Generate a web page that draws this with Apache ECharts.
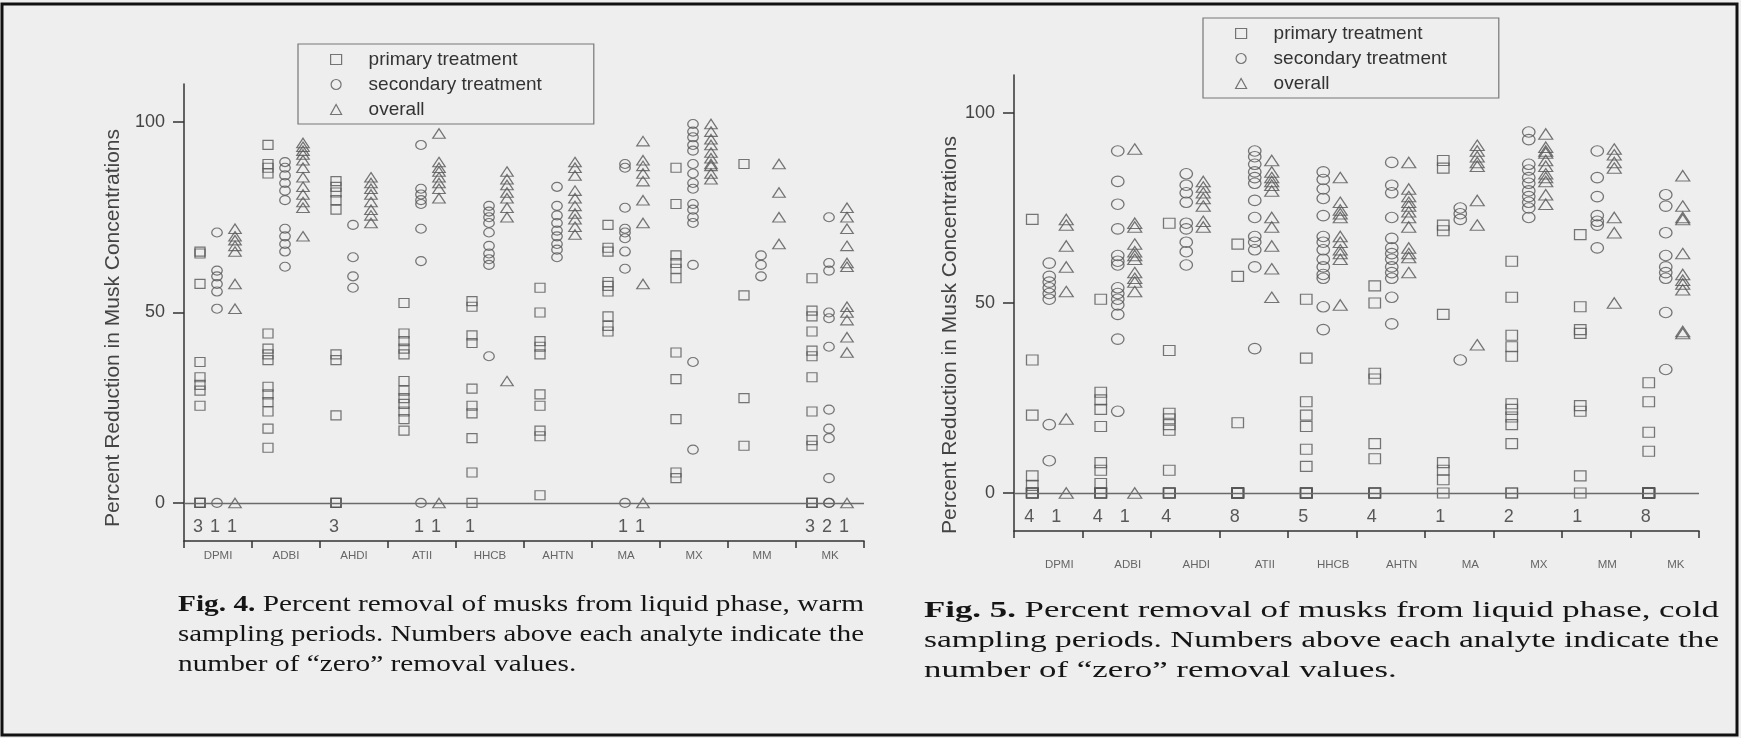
<!DOCTYPE html>
<html>
<head>
<meta charset="utf-8">
<script src="https://cdn.jsdelivr.net/npm/echarts@6.0.0/dist/echarts.min.js"></script>
<style>
  html, body { margin: 0; padding: 0; background: #eeeeee; }
  #main { width: 1741px; height: 738px; }
</style>
</head>
<body>
<div id="main"></div>
<script>
// Analytes on the x axis
const categories = ['DPMI', 'ADBI', 'AHDI', 'ATII', 'HHCB', 'AHTN', 'MA', 'MX', 'MM', 'MK'];
const seriesNames = ['primary treatment', 'secondary treatment', 'overall'];
const yTicks = [0, 50, 100];

// Fig. 4 – warm sampling periods: non-zero percent reductions per analyte
const warmPrimary = [
  [66, 65.5, 57.5, 37, 33, 31, 29.5, 25.5],
  [94, 89, 88, 86.5, 44.5, 40.5, 39, 37.5, 30.5, 28.5, 26.5, 24, 19.5, 14.5],
  [84.5, 83, 81.5, 79.5, 77, 39, 37.5, 23],
  [52.5, 44.5, 42.5, 40.5, 39, 32, 29.5, 27.5, 26, 24, 22, 19],
  [53, 51.5, 44, 42, 30, 25.5, 23.5, 17, 8],
  [56.5, 50, 42.5, 41, 39, 28.5, 25.5, 19, 17.5, 2],
  [73, 67, 66, 58, 57, 55.5, 49, 46.5, 45],
  [88, 78.5, 65, 63, 61.5, 59, 39.5, 32.5, 22, 8, 6.5],
  [89, 54.5, 27.5, 15],
  [59, 50.5, 49, 45, 40, 38.5, 33, 24, 16.5, 15]
];
const warmSecondary = [
  [71, 61, 59.5, 57.5, 55.5, 51],
  [89.5, 88, 86, 84, 82, 79.5, 72, 70, 68, 66, 62],
  [73, 64.5, 59.5, 56.5],
  [94, 82.5, 81, 79.5, 78.5, 72, 63.5],
  [78, 76.5, 75, 73.5, 71, 67.5, 65.5, 64, 62.5, 38.5],
  [83, 78, 75.5, 73.5, 71.5, 70, 68, 66.5, 64.5],
  [89, 88, 77.5, 72, 71, 69.5, 66, 61.5],
  [99.5, 97.5, 96, 94, 92.5, 89, 86.5, 84, 82.5, 78.5, 77, 75, 73.5, 62.5, 37, 14],
  [65, 62.5, 59.5],
  [75, 63, 61, 50, 48.5, 41, 24.5, 19.5, 17, 6.5]
];
const warmOverall = [
  [72, 70, 69, 67.5, 66, 57.5, 51],
  [94.5, 93.5, 92.5, 91.5, 90, 88, 85.5, 83, 81, 79, 77.5, 70],
  [85.5, 84, 82.5, 81, 79, 77, 75.5, 73.5],
  [97, 89.5, 88, 87, 85.5, 84, 82.5, 80],
  [87, 85, 83.5, 81.5, 80, 77.5, 75, 32],
  [89.5, 88, 86, 82, 80, 78, 76, 74.5, 72.5, 70.5],
  [95, 90, 88.5, 86.5, 84.5, 79.5, 73.5, 57.5],
  [99.5, 97.5, 95.5, 94, 92, 90.5, 89, 88.5, 86.5, 85],
  [89, 81.5, 75, 68],
  [77.5, 75, 72, 67.5, 63, 62, 51.5, 50, 48, 43.5, 39.5]
];
// number of "zero" removal values per analyte
const warmPrimaryZeros   = [3, 0, 3, 0, 1, 0, 0, 0, 0, 3];
const warmSecondaryZeros = [1, 0, 0, 1, 0, 0, 1, 0, 0, 2];
const warmOverallZeros   = [1, 0, 0, 1, 0, 0, 1, 0, 0, 1];

// Fig. 5 – cold sampling periods
const coldPrimary = [
  [72, 35, 20.5, 4.5, 2],
  [51, 26.5, 24.5, 22, 17.5, 8, 6, 2.5],
  [71, 37.5, 21, 19.5, 18, 16.5, 6],
  [65.5, 57, 18.5],
  [51, 35.5, 24, 20.5, 17.5, 11.5, 7],
  [54.5, 50, 31.5, 30, 13, 9],
  [87.5, 85.5, 70.5, 69, 47, 8, 6, 3.5],
  [61, 51.5, 41.5, 38.5, 36, 23.5, 22, 20, 18, 13],
  [68, 49, 43, 42, 23, 21.5, 4.5],
  [29, 24, 16, 11]
];
const coldSecondary = [
  [60.5, 57, 55.5, 54, 52.5, 51, 18, 8.5],
  [90, 82, 76, 69.5, 62.5, 61, 60, 54, 52.5, 51, 49.5, 47, 40.5, 21.5],
  [84, 81, 79, 76.5, 71, 69.5, 66, 63.5, 60],
  [90, 88.5, 86.5, 84.5, 83, 81.5, 77, 72.5, 67.5, 66, 64, 59.5, 38],
  [84.5, 82.5, 80, 77.5, 73, 67.5, 66, 64, 61.5, 59.5, 57.5, 56.5, 49, 43],
  [87, 81, 79, 72.5, 67, 64.5, 63, 61.5, 59.5, 58, 56.5, 51.5, 44.5],
  [75, 73.5, 72, 35],
  [95, 93, 86.5, 85, 83, 81.5, 79.5, 78, 76.5, 75, 72.5],
  [90, 83, 78, 73, 71.5, 70.5, 64.5],
  [78.5, 75.5, 68.5, 62.5, 59.5, 58, 56.5, 47.5, 32.5]
];
const coldOverall = [
  [72, 70.5, 65, 59.5, 53, 19.5],
  [90.5, 71, 70, 65.5, 63.5, 62.5, 61.5, 58, 56.5, 55.5, 53],
  [82, 80.5, 79, 77.5, 75.5, 71.5, 70],
  [87.5, 84.5, 83, 82, 81, 79.5, 72.5, 70, 65, 59, 51.5],
  [83, 76.5, 74.5, 73.5, 72.5, 67.5, 66, 64, 63, 61.5, 49.5],
  [87, 80, 78, 76.5, 75.5, 74, 72.5, 70, 64.5, 63, 62, 58],
  [91.5, 90, 88.5, 87, 86, 77, 70.5, 39],
  [94.5, 91, 90, 89.5, 87.5, 86, 84, 83, 82, 78.5, 76],
  [90.5, 89, 87, 85.5, 72.5, 68.5, 50],
  [83.5, 75.5, 72.5, 72, 63, 57.5, 56, 55, 53.5, 42.5, 42]
];
const coldPrimaryZeros   = [4, 4, 4, 8, 5, 4, 1, 2, 1, 8];
const coldSecondaryZeros = [0, 0, 0, 0, 0, 0, 0, 0, 0, 0];
const coldOverallZeros   = [1, 1, 0, 0, 0, 0, 0, 0, 0, 0];

const yTitle = 'Percent Reduction in Musk Concentrations';
const captions = [
  ['Fig. 4.', ' Percent removal of musks from liquid phase, warm',
   'sampling periods. Numbers above each analyte indicate the',
   'number of \u201Czero\u201D removal values.'],
  ['Fig. 5.', ' Percent removal of musks from liquid phase, cold',
   'sampling periods. Numbers above each analyte indicate the',
   'number of \u201Czero\u201D removal values.']
];

// ---- layout / style ----
const INK = '#555';
const SANS = '"Liberation Sans", Arial, sans-serif';
const SERIF = '"Liberation Serif", "Times New Roman", serif';
const SYMBOLS = ['rect', 'circle', 'triangle'];

const panels = [
  {
    grid: { left: 184, top: 84, width: 680, height: 457 },
    values: [warmPrimary, warmSecondary, warmOverall],
    zeros: [warmPrimaryZeros, warmSecondaryZeros, warmOverallZeros],
    sizes: [[10, 9], [10.5, 9], [12.5, 9.5]],
    colOffset: [-18, -1, 17], countOffset: [-20, -3, 14], countY: -6.3,
    labelMargin: 9, labelPad: 0,
    legend: { left: 298, top: 44 },
    title: { x: 113, y: 328 },
    caption: { x: 178, y: [605, 635, 665], width: 686 }
  },
  {
    grid: { left: 1014, top: 75, width: 685, height: 456 },
    values: [coldPrimary, coldSecondary, coldOverall],
    zeros: [coldPrimaryZeros, coldSecondaryZeros, coldOverallZeros],
    sizes: [[11.5, 10], [12.5, 10.5], [14, 10.5]],
    colOffset: [-16, 1, 18], countOffset: [-19, -2, 8], countY: -6.3,
    labelMargin: 28, labelPad: 22,
    legend: { left: 1203, top: 18 },
    title: { x: 950, y: 335 },
    caption: { x: 924, y: [611, 641, 671], width: 795 }
  }
];

function buildPoints(values, zeros) {
  const pts = [];
  categories.forEach((cat, c) => {
    values[c].forEach(v => pts.push([cat, v]));
    for (let z = 0; z < zeros[c]; z++) pts.push([cat, 0]);
  });
  return pts;
}

const xAxes = [], yAxes = [], series = [], legends = [], graphics = [];

panels.forEach((p, i) => {
  xAxes.push({
    type: 'category', gridIndex: i, data: categories, boundaryGap: true,
    axisLine: { onZero: false, lineStyle: { color: '#333', width: 1.5 } },
    axisTick: { show: true, inside: false, length: 7, interval: 0, lineStyle: { color: '#333', width: 1.5 } },
    axisLabel: { interval: 0, margin: p.labelMargin, fontSize: 11.5, color: '#666', fontFamily: SANS,
                 padding: [0, 0, 0, p.labelPad] },
    splitLine: { show: false }
  });
  yAxes.push({
    type: 'value', gridIndex: i, min: -10, max: 110,
    axisLine: { show: true, lineStyle: { color: '#333', width: 1.5 } },
    axisTick: { show: true, inside: false, length: 11, customValues: yTicks, lineStyle: { color: '#333', width: 1.5 } },
    axisLabel: { customValues: yTicks, margin: 19, fontSize: 18, color: '#444', fontFamily: SANS },
    splitLine: { show: false }
  });

  seriesNames.forEach((name, k) => {
    const s = {
      type: 'scatter', name, xAxisIndex: i, yAxisIndex: i,
      symbol: SYMBOLS[k], symbolSize: p.sizes[k], symbolOffset: [p.colOffset[k], 0],
      itemStyle: { color: 'transparent', borderColor: INK, borderWidth: 1.2 },
      emphasis: { disabled: true }, silent: true,
      data: buildPoints(p.values[k], p.zeros[k]), z: 3
    };
    if (k === 0) {
      s.markLine = {
        silent: true, symbol: ['none', 'none'], label: { show: false }, animation: false,
        lineStyle: { color: '#6a6a6a', width: 1.3, type: 'solid' },
        data: [{ yAxis: 0 }]
      };
    }
    series.push(s);
  });

  // counts of zero values written under the zero line
  const countItems = [];
  seriesNames.forEach((name, k) => {
    categories.forEach((cat, c) => {
      const n = p.zeros[k][c];
      if (n > 0) countItems.push({ value: [cat, p.countY], symbolOffset: [p.countOffset[k], 0], count: n });
    });
  });
  series.push({
    type: 'scatter', xAxisIndex: i, yAxisIndex: i, symbol: 'circle', symbolSize: 1,
    itemStyle: { color: 'transparent' }, silent: true, z: 4,
    label: { show: true, position: 'inside', fontSize: 18, color: '#333', fontFamily: SANS,
             formatter: q => String(q.data.count) },
    data: countItems
  });

  legends.push({
    data: seriesNames, orient: 'vertical', left: p.legend.left, top: p.legend.top,
    itemWidth: 11, itemHeight: 10, itemGap: 6, selectedMode: false,
    padding: [6, 52, 5, 32],
    borderColor: '#777', borderWidth: 1.2,
    itemStyle: { color: 'transparent', borderColor: INK, borderWidth: 1.2 },
    textStyle: { fontSize: 19, color: '#333', fontFamily: SANS, padding: [0, 0, 0, 22] }
  });

  graphics.push({
    type: 'text', x: p.title.x, y: p.title.y, rotation: Math.PI / 2, silent: true,
    style: { text: yTitle, font: '21px ' + SANS, fill: '#444',
             align: 'center', verticalAlign: 'middle', textAlign: 'center', textVerticalAlign: 'middle' }
  });
});

// captions: serif text stretched to the printed column width
const ctx = document.createElement('canvas').getContext('2d');
function measure(str, bold) {
  ctx.font = (bold ? 'bold ' : '') + '23px ' + SERIF;
  return ctx.measureText(str).width;
}
panels.forEach((p, i) => {
  const [head, l1, l2, l3] = captions[i];
  const s1 = p.caption.width / (measure(head, true) + measure(l1));
  const s2 = p.caption.width / measure(l2);
  const base = { font: '23px ' + SERIF, fill: '#151515', align: 'left', verticalAlign: 'middle',
                 textAlign: 'left', textVerticalAlign: 'middle' };
  graphics.push({
    type: 'text', x: p.caption.x, y: p.caption.y[0], scaleX: s1, silent: true,
    style: Object.assign({}, base, {
      text: '{b|' + head + '}' + l1,
      rich: { b: { fontWeight: 'bold', fontSize: 23, fontFamily: SERIF, fill: '#151515' } }
    })
  });
  graphics.push({ type: 'text', x: p.caption.x, y: p.caption.y[1], scaleX: s2, silent: true,
                  style: Object.assign({}, base, { text: l2 }) });
  graphics.push({ type: 'text', x: p.caption.x, y: p.caption.y[2], scaleX: s1, silent: true,
                  style: Object.assign({}, base, { text: l3 }) });
});

// outer frame
graphics.push({
  type: 'rect', silent: true, z: 10,
  shape: { x: 2, y: 4, width: 1735, height: 731 },
  style: { fill: 'none', stroke: '#111', lineWidth: 3 }
});

const chart = echarts.init(document.getElementById('main'), null, { renderer: 'canvas' });
chart.setOption({
  backgroundColor: '#eeeeee',
  animation: false,
  textStyle: { fontFamily: SANS },
  grid: panels.map(p => Object.assign({ containLabel: false }, p.grid)),
  xAxis: xAxes,
  yAxis: yAxes,
  legend: legends,
  series: series,
  graphic: { elements: graphics }
});
</script>
</body>
</html>
